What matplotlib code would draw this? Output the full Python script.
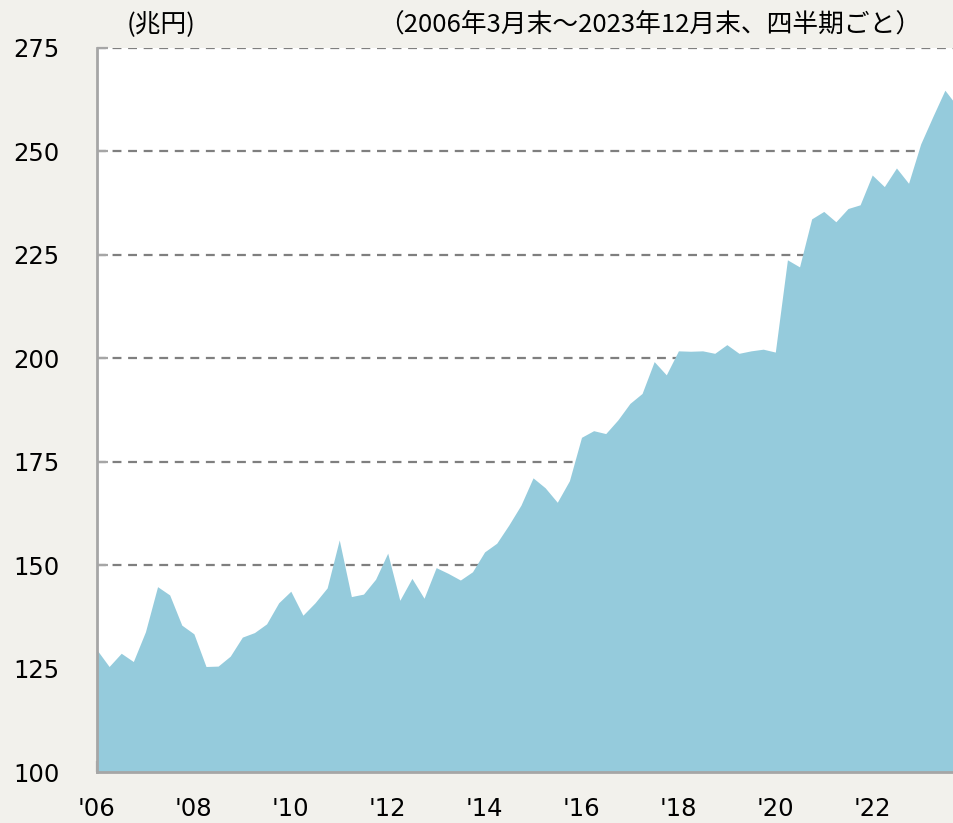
import matplotlib.pyplot as plt
import numpy as np

# quarterly values, 2006 Mar end .. 2023 Dec end (trillion yen)
values = [
    129.5, 125.5, 128.7, 126.7, 133.9, 144.8, 142.8, 135.5,
    133.4, 125.5, 125.6, 128.0, 132.6, 133.7, 135.8, 140.9,
    143.7, 137.9, 140.9, 144.5, 156.1, 142.4, 143.0, 146.6,
    152.9, 141.5, 146.8, 142.0, 149.4, 148.0, 146.4, 148.4,
    153.2, 155.3, 159.7, 164.5, 171.1, 168.7, 165.2, 170.4,
    180.9, 182.5, 181.8, 185.1, 189.1, 191.5, 199.2, 196.0,
    201.8, 201.7, 201.8, 201.2, 203.3, 201.2, 201.8, 202.2,
    201.5, 223.8, 222.1, 233.7, 235.5, 233.0, 236.2, 237.1,
    244.3, 241.5, 246.0, 242.3, 251.8, 258.4, 264.8, 261.0,
]
tick_labels = ["'06", "'08", "'10", "'12", "'14", "'16", "'18", "'20", "'22"]
yticks = [100, 125, 150, 175, 200, 225, 250, 275]

bg = '#f2f1ec'
fill_color = '#95cbdc'
spine_color = '#a6a6a6'

fig = plt.figure(figsize=(9.54, 8.23), dpi=100, facecolor=bg)
ax = fig.add_axes([97 / 954, 51 / 823, 860 / 954, 724 / 823])
ax.set_facecolor('white')

x = np.arange(len(values))
ax.fill_between(x, 100, values, color=fill_color, linewidth=0, zorder=2)

ax.set_xlim(0, 71)
ax.set_ylim(100, 275)

# dashed gridlines sit behind the area
for v in yticks[1:]:
    ax.axhline(v, color='#7f7f7f', linestyle=(0, (4, 3)), linewidth=1.6, zorder=1)

ax.set_yticks(yticks)
ax.set_yticklabels([str(v) for v in yticks], fontsize=17.5)
ax.set_xticks(np.arange(0, 72, 8))
ax.set_xticklabels(tick_labels, fontsize=17.5)
ax.tick_params(axis='both', direction='in', length=8, width=1.6, color=spine_color)
ax.tick_params(axis='x', pad=18)
ax.tick_params(axis='y', pad=60)
for lab in ax.get_yticklabels():
    lab.set_horizontalalignment('left')

for side in ['top', 'right']:
    ax.spines[side].set_visible(False)
for side in ['left', 'bottom']:
    ax.spines[side].set_color(spine_color)
    ax.spines[side].set_linewidth(2)
    ax.spines[side].set_zorder(4)

jp = ['Noto Sans CJK JP', 'DejaVu Sans']
fig.text(127 / 954, 1 - 25 / 823, '(兆円)', fontsize=18.5, family=jp, va='center', ha='left')
fig.text(921 / 954, 1 - 25 / 823, '（2006年3月末～2023年12月末、四半期ごと）', fontsize=18.5,
         family=jp, va='center', ha='right')

fig.savefig('out.png', dpi=100, facecolor=bg)
